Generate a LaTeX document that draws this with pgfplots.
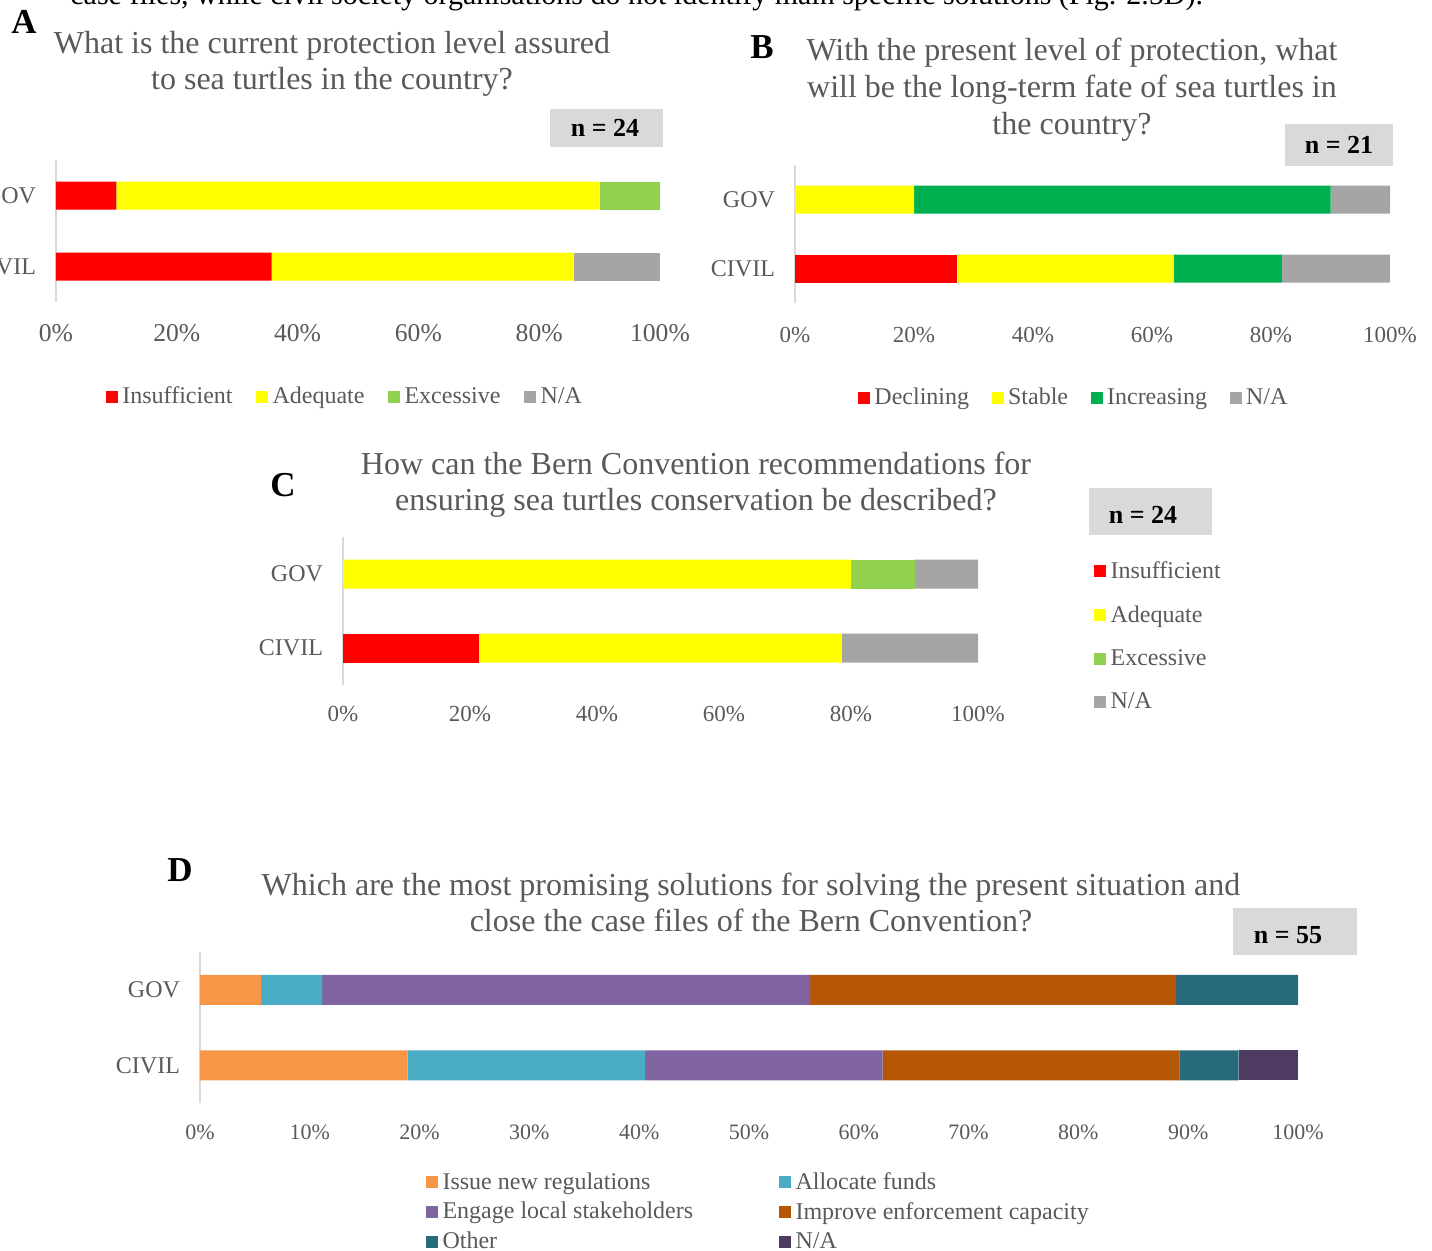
\documentclass[border=0pt]{standalone}
\usepackage{fontspec}
\setmainfont{Liberation Serif}
\usepackage{pgfplots}
\pgfplotsset{compat=1.18}
\definecolor{tg}{HTML}{595959}
\definecolor{axg}{HTML}{D9D9D9}
\definecolor{boxg}{HTML}{D9D9D9}
\definecolor{cRed}{HTML}{FF0000}
\definecolor{cYel}{HTML}{FFFF00}
\definecolor{cLG}{HTML}{92D050}
\definecolor{cGray}{HTML}{A5A5A5}
\definecolor{cGreen}{HTML}{00B050}
\definecolor{cOr}{HTML}{F79646}
\definecolor{cBlue}{HTML}{4BACC6}
\definecolor{cPur}{HTML}{8064A2}
\definecolor{cBrn}{HTML}{B65708}
\definecolor{cTeal}{HTML}{276A7C}
\definecolor{cDPur}{HTML}{4F3A62}
\pgfplotsset{
  panel/.style={
    scale only axis, xbar stacked, xmin=0, xmax=100, ymin=-0.5, ymax=1.5,
    axis lines*=left, x axis line style={draw=none},
    y axis line style={draw=axg, line width=1pt, -},
    major tick length=0pt, ytick={0,1}, yticklabels={CIVIL,GOV},
    yticklabel style={font=\fontsize{12}{14}\selectfont, text=tg, xshift=-6.5pt},
    xticklabel style={text=tg, anchor=center},
    /pgf/number format/assume math mode=true,
    legend cell align=left,
    legend style={draw=none, fill=none, inner sep=0pt, outer sep=0pt,
      font=\fontsize{12}{14}\selectfont, text=tg, nodes={inner sep=1pt},
      /tikz/every odd column/.append style={column sep=1.2pt}},
    clip=false,
  },
  sqleg/.style={legend image code/.code={\fill[##1] (0pt,-3pt) rectangle (6pt,3pt);}},
}
\begin{document}
\begin{tikzpicture}
\path[use as bounding box] (0pt,0pt) rectangle (716pt,-625pt);

% ---------------- A ----------------
\begin{axis}[panel, at={(28pt,-151pt)}, anchor=south west, width=302pt, height=71pt, bar width=14pt,
  xtick={0,20,40,60,80,100}, xticklabels={0\%,20\%,40\%,60\%,80\%,100\%},
  xticklabel style={font=\fontsize{12.8}{14}\selectfont, yshift=-15.5pt},
  legend columns=4,
  legend style={at={(0.0828,-0.669)}, anchor=west, /tikz/every even column/.append style={column sep=10.8pt}}]
\addplot[fill=cRed, draw=none, sqleg] coordinates {(10,1) (35.71,0)};
\addplot[fill=cYel, draw=none, sqleg] coordinates {(80,1) (50,0)};
\addplot[fill=cLG, draw=none, sqleg] coordinates {(10,1) (0,0)};
\addplot[fill=cGray, draw=none, sqleg] coordinates {(0,1) (14.29,0)};
\legend{Insufficient,Adequate,Excessive,N/A}
\end{axis}

% ---------------- B ----------------
\begin{axis}[panel, at={(397.5pt,-151.5pt)}, anchor=south west, width=297.5pt, height=69pt, bar width=14pt,
  xtick={0,20,40,60,80,100}, xticklabels={0\%,20\%,40\%,60\%,80\%,100\%},
  xticklabel style={font=\fontsize{11.5}{13}\selectfont, yshift=-16pt},
  legend columns=4,
  legend style={at={(0.106,-0.688)}, anchor=west, /tikz/every even column/.append style={column sep=10.3pt}}]
\addplot[fill=cRed, draw=none, sqleg] coordinates {(0,1) (27.27,0)};
\addplot[fill=cYel, draw=none, sqleg] coordinates {(20,1) (36.36,0)};
\addplot[fill=cGreen, draw=none, sqleg] coordinates {(70,1) (18.18,0)};
\addplot[fill=cGray, draw=none, sqleg] coordinates {(10,1) (18.18,0)};
\legend{Declining,Stable,Increasing,N/A}
\end{axis}

% ---------------- C ----------------
\begin{axis}[panel, at={(171.5pt,-342.5pt)}, anchor=south west, width=317.5pt, height=74pt, bar width=14.5pt,
  xtick={0,20,40,60,80,100}, xticklabels={0\%,20\%,40\%,60\%,80\%,100\%},
  xticklabel style={font=\fontsize{11.5}{13}\selectfont, yshift=-14.5pt},
  legend columns=1,
  legend style={at={(1.183,0.328)}, anchor=west, row sep=10.2pt}]
\addplot[fill=cRed, draw=none, sqleg] coordinates {(0,1) (21.43,0)};
\addplot[fill=cYel, draw=none, sqleg] coordinates {(80,1) (57.14,0)};
\addplot[fill=cLG, draw=none, sqleg] coordinates {(10,1) (0,0)};
\addplot[fill=cGray, draw=none, sqleg] coordinates {(10,1) (21.43,0)};
\legend{Insufficient,Adequate,Excessive,N/A}
\end{axis}

% ---------------- D ----------------
\begin{axis}[panel, at={(100pt,-551.5pt)}, anchor=south west, width=549pt, height=75.5pt, bar width=15pt,
  xtick={0,10,...,100}, xticklabels={0\%,10\%,20\%,30\%,40\%,50\%,60\%,70\%,80\%,90\%,100\%},
  xticklabel style={font=\fontsize{11}{13}\selectfont, yshift=-14.5pt},
  legend columns=2,
  legend style={at={(0.206,-0.722)}, anchor=west, row sep=3pt, /tikz/every even column/.append style={column sep=42pt}}]
\addplot[fill=cOr, draw=none, sqleg] coordinates {(5.56,1) (18.92,0)};
\addplot[fill=cBlue, draw=none, sqleg] coordinates {(5.56,1) (21.62,0)};
\addplot[fill=cPur, draw=none, sqleg] coordinates {(44.44,1) (21.62,0)};
\addplot[fill=cBrn, draw=none, sqleg] coordinates {(33.33,1) (27.03,0)};
\addplot[fill=cTeal, draw=none, sqleg] coordinates {(11.11,1) (5.41,0)};
\addplot[fill=cDPur, draw=none, sqleg] coordinates {(0,1) (5.41,0)};
\legend{Issue new regulations,Allocate funds,Engage local stakeholders,Improve enforcement capacity,Other,N/A}
\end{axis}

\begin{scope}[x=0.5pt,y=-0.5pt]
% cropped body text line
\node[anchor=base west, inner sep=0pt, font=\fontsize{15}{18}\selectfont] at (70,4)
  {case files, while civil society organisations do not identify main specific solutions (Fig. 2.5D).};
% panel letters
\begin{scope}[every node/.style={inner sep=0pt, font=\fontsize{17.5}{20}\selectfont\bfseries}]
\node at (24,22) {A};
\node at (762,47) {B};
\node at (283,485) {C};
\node at (180,870) {D};
\end{scope}
% titles
\begin{scope}[every node/.style={inner sep=0pt, anchor=base, text=tg, font=\fontsize{16}{18}\selectfont}]
\node at (332,53) {What is the current protection level assured};
\node at (332,89) {to sea turtles in the country?};
\node at (1072,60) {With the present level of protection, what};
\node at (1072,97) {will be the long-term fate of sea turtles in};
\node at (1072,134) {the country?};
\node at (696,474) {How can the Bern Convention recommendations for};
\node at (696,510) {ensuring sea turtles conservation be described?};
\node at (751,895) {Which are the most promising solutions for solving the present situation and};
\node at (751,931) {close the case files of the Bern Convention?};
\end{scope}
% n boxes
\fill[boxg] (550,109) rectangle (663,147);
\fill[boxg] (1285,124) rectangle (1393,166);
\fill[boxg] (1089,488) rectangle (1212,535);
\fill[boxg] (1233,908) rectangle (1357,955);
\begin{scope}[every node/.style={inner sep=0pt, font=\fontsize{13}{15}\selectfont\bfseries}]
\node at (605,128) {n = 24};
\node at (1339,145) {n = 21};
\node at (1143,515) {n = 24};
\node at (1288,935) {n = 55};
\end{scope}
\end{scope}
\end{tikzpicture}
\end{document}
